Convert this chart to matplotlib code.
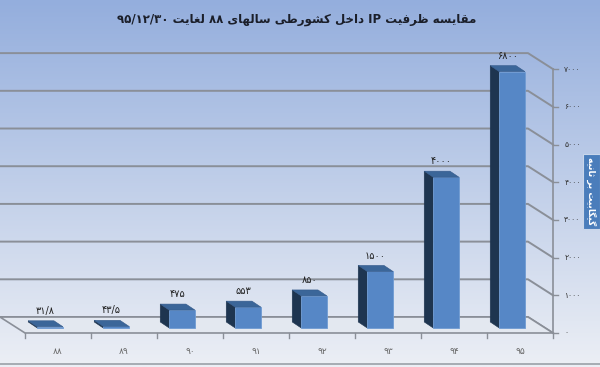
import numpy as np
import matplotlib
matplotlib.use("Agg")
import matplotlib.pyplot as plt
from matplotlib.patches import Polygon

# ---------- data ----------
years = [88, 89, 90, 91, 92, 93, 94, 95]
capacity = [31.8, 43.5, 475, 553, 850, 1500, 4000, 6800]
y_ticks = [0, 1000, 2000, 3000, 4000, 5000, 6000, 7000]
title_txt = "مقایسه ظرفیت IP داخل کشورطی سالهای ۸۸ لغایت ۹۵/۱۲/۳۰"
axis_txt = "گیگابیت بر ثانیه"

# ---------- tiny persian shaper (matplotlib has no arabic shaping) ----------
FORMS = {
    'ا': ('\uFE8D', '\uFE8E', None, None),
    'ب': ('\uFE8F', '\uFE90', '\uFE91', '\uFE92'),
    'ت': ('\uFE95', '\uFE96', '\uFE97', '\uFE98'),
    'ث': ('\uFE99', '\uFE9A', '\uFE9B', '\uFE9C'),
    'خ': ('\uFEA5', '\uFEA6', '\uFEA7', '\uFEA8'),
    'د': ('\uFEA9', '\uFEAA', None, None),
    'ر': ('\uFEAD', '\uFEAE', None, None),
    'س': ('\uFEB1', '\uFEB2', '\uFEB3', '\uFEB4'),
    'ش': ('\uFEB5', '\uFEB6', '\uFEB7', '\uFEB8'),
    'ط': ('\uFEC1', '\uFEC2', '\uFEC3', '\uFEC4'),
    'ظ': ('\uFEC5', '\uFEC6', '\uFEC7', '\uFEC8'),
    'غ': ('\uFECD', '\uFECE', '\uFECF', '\uFED0'),
    'ف': ('\uFED1', '\uFED2', '\uFED3', '\uFED4'),
    'ق': ('\uFED5', '\uFED6', '\uFED7', '\uFED8'),
    'ل': ('\uFEDD', '\uFEDE', '\uFEDF', '\uFEE0'),
    'م': ('\uFEE1', '\uFEE2', '\uFEE3', '\uFEE4'),
    'ن': ('\uFEE5', '\uFEE6', '\uFEE7', '\uFEE8'),
    'ه': ('\uFEE9', '\uFEEA', '\uFEEB', '\uFEEC'),
    'و': ('\uFEED', '\uFEEE', None, None),
    'ی': ('\uFBFC', '\uFBFD', '\uFBFE', '\uFBFF'),
    'ک': ('\uFB8E', '\uFB8F', '\uFB90', '\uFB91'),
    'گ': ('\uFB92', '\uFB93', '\uFB94', '\uFB95'),
}


def shape_word(w):
    if not any(c in FORMS for c in w):
        return w
    out = []
    for k, ch in enumerate(w):
        if ch not in FORMS:
            out.append(ch)
            continue
        prev = w[k - 1] if k > 0 else None
        nxt = w[k + 1] if k + 1 < len(w) else None
        jp = prev in FORMS and FORMS[prev][2] is not None
        jn = nxt in FORMS and FORMS[ch][2] is not None
        iso, fin, ini, med = FORMS[ch]
        if jp and jn:
            out.append(med)
        elif jp:
            out.append(fin)
        elif jn:
            out.append(ini)
        else:
            out.append(iso)
    return ''.join(reversed(out))


def visual(s):
    return ' '.join(shape_word(t) for t in reversed(s.split(' ')))


FA = str.maketrans('0123456789.', '۰۱۲۳۴۵۶۷۸۹/')


def fa_num(v):
    s = ('%g' % v)
    return s.translate(FA)


# ---------- figure ----------
fig = plt.figure(figsize=(6, 3.67), dpi=100)
ax = fig.add_axes([0, 0, 1, 1])
ax.set_xlim(-0.879, 8.212)
ax.set_ylim(-902, 8833)
ax.axis('off')

# background gradient
top = np.array([148, 174, 221]) / 255.
bot = np.array([236, 239, 245]) / 255.
t = np.linspace(0, 1, 256)[:, None]
grad = top * (1 - t[:, :, None]) + bot * t[:, :, None]
ax.imshow(grad, extent=[-0.879, 8.212, -902, 8833], aspect='auto', zorder=0)

DX, DY = -0.379, 424          # floor depth
grid_c = '#8a8f98'
n = len(years)
xl, xr = -0.5, n - 0.5

# back wall gridlines and their run onto the right axis
for v in y_ticks:
    ax.plot([xl + DX, xr + DX, xr], [v + DY, v + DY, v], color=grid_c, lw=1.4, zorder=1)
    ax.plot([xr, xr + 0.08], [v, v], color=grid_c, lw=1.0, zorder=1)
    ax.text(xr + 0.17, v, fa_num(v), fontsize=5.5, color='#333333',
            ha='left', va='center', family='DejaVu Sans')

# floor
floor = Polygon([(xl, 0), (xr, 0), (xr + DX, DY), (xl + DX, DY)], closed=True,
                facecolor='#e3e8f0', edgecolor=grid_c, lw=1.2, zorder=1)
ax.add_patch(floor)
ax.plot([xr, xr], [0, y_ticks[-1]], color=grid_c, lw=1.2, zorder=1)
for b in np.arange(xl, xr + 0.01, 1.0):
    ax.plot([b, b], [0, -130], color=grid_c, lw=1.0, zorder=1)
ax.axhline(-830, color='#9aa0a8', lw=1.2, zorder=1)

# bars (front face + dark side + top)
bw, bx, by = 0.39, -0.12, 133
sdx, sdy = -0.136, 159
ax.bar([i + bx for i in range(n)], capacity, width=bw, bottom=by,
       color='#5687c6', edgecolor='#6f9bd2', lw=0.6, zorder=3)
for i, v in enumerate(capacity):
    x0 = i + bx - bw / 2
    x1 = x0 + bw
    y1 = by + v
    side = Polygon([(x0, by), (x0, y1), (x0 + sdx, y1 + sdy), (x0 + sdx, by + sdy)],
                   closed=True, facecolor='#1e3550', edgecolor='#1e3550', lw=0.4, zorder=2)
    topf = Polygon([(x0, y1), (x1, y1), (x1 + sdx, y1 + sdy), (x0 + sdx, y1 + sdy)],
                   closed=True, facecolor='#3b6699', edgecolor='#34598a', lw=0.4, zorder=4)
    ax.add_patch(side)
    ax.add_patch(topf)
    ax.text(i + bx + sdx / 2, y1 + sdy + 130, fa_num(v), fontsize=7, color='#222222',
            ha='center', va='bottom', zorder=5)
    ax.text(i, -480, fa_num(years[i]), fontsize=6.5, color='#666666',
            ha='center', va='center', zorder=5)

# title
fig.text(0.495, 0.946, visual(title_txt), fontsize=8.5, fontweight='bold',
         color='#1b1f2a', ha='center', va='center', family='DejaVu Sans')

# axis title box on the right
fig.text(0.986, 0.478, visual(axis_txt), fontsize=6.5, color='white', rotation=-90,
         ha='center', va='center', fontweight='bold',
         bbox=dict(boxstyle='square,pad=0.35', facecolor='#4a7dbb', edgecolor='#c9d6ea', lw=0.8))

fig.savefig('out.png', dpi=100)
